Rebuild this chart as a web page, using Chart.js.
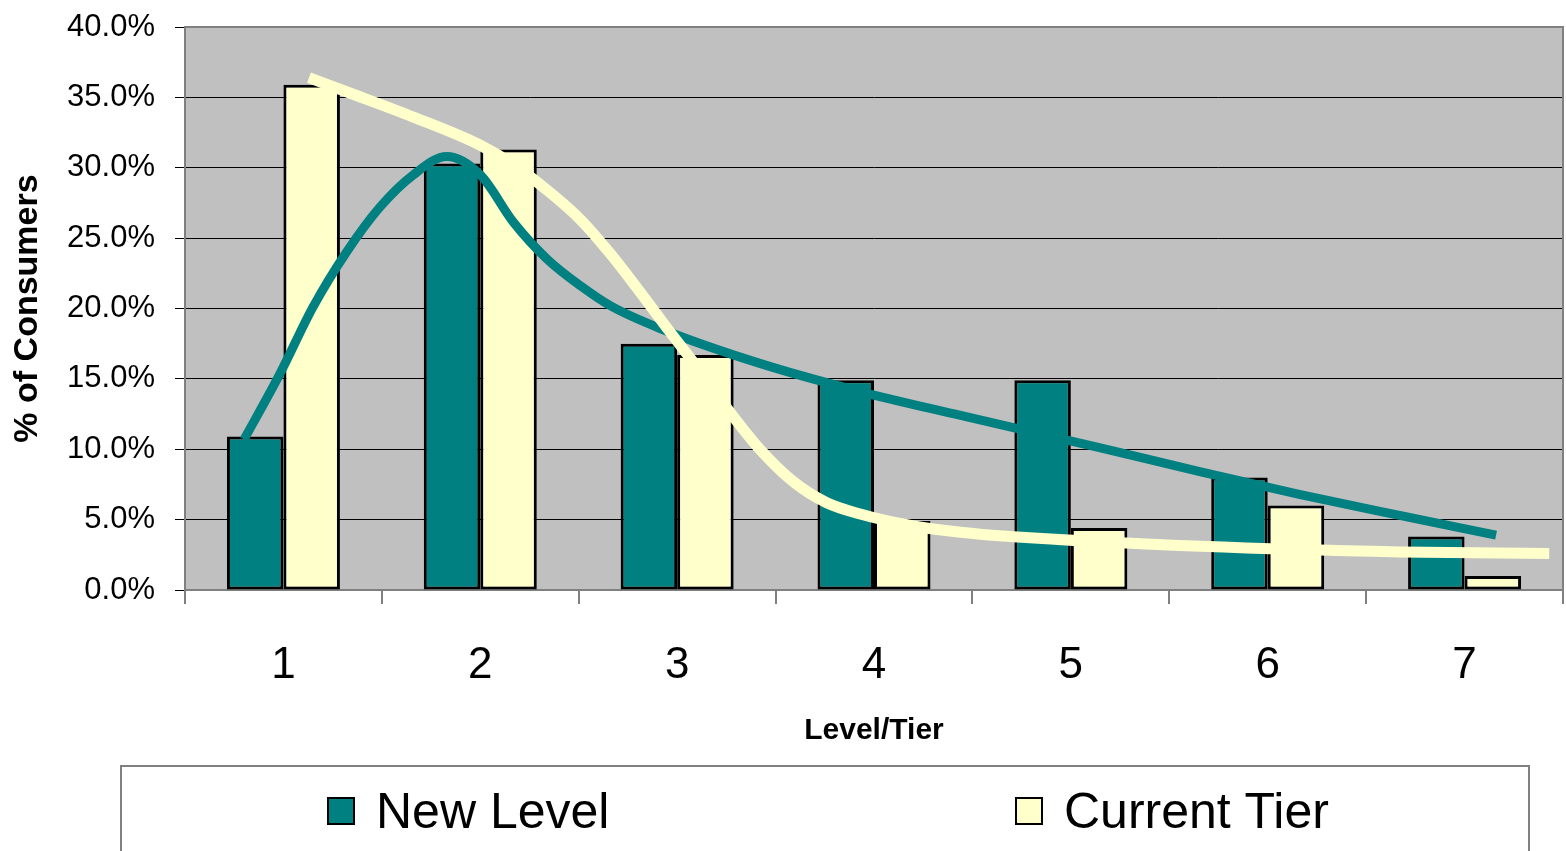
<!DOCTYPE html>
<html>
<head>
<meta charset="utf-8">
<script src="https://cdn.jsdelivr.net/npm/chart.js@4/dist/chart.umd.min.js"></script>
<style>
  html, body { margin: 0; padding: 0; background: #ffffff; overflow: hidden; }
  #wrap { width: 1566px; height: 851px; }
</style>
</head>
<body>
<div id="wrap"><canvas id="c" width="1566" height="851"></canvas></div>
<script>
// ---- data ----
const levels = ['1', '2', '3', '4', '5', '6', '7'];
const newLevel    = [10.9, 30.3, 17.5, 14.9, 14.9, 8.0, 3.8];
const currentTier = [35.9, 31.3, 16.7, 4.9, 4.4, 6.0, 1.0];

// smoothed curves (x in level units)
const newLevelCurveX = [0.80, 0.98, 1.15, 1.32, 1.49, 1.66, 1.83, 2.00, 2.17, 2.34, 2.51, 2.66, 2.91, 3.42, 3.93, 4.44, 5.15, 5.66, 6.16, 6.67, 7.16];
const newLevelCurveY = [10.7, 15.3, 20.1, 24.0, 27.2, 29.5, 30.8, 29.5, 26.1, 23.5, 21.6, 20.2, 18.6, 16.1, 14.1, 12.4, 10.1, 8.4, 6.8, 5.3, 3.9];
const currentTierCurveX = [1.13, 1.32, 1.66, 2.00, 2.17, 2.34, 2.51, 2.66, 2.81, 2.96, 3.12, 3.27, 3.42, 3.59, 3.76, 3.93, 4.18, 4.44, 4.69, 5.66, 6.67, 7.43];
const currentTierCurveY = [36.4, 35.4, 33.6, 31.6, 30.2, 28.4, 26.3, 23.9, 21.2, 18.4, 15.5, 12.6, 10.0, 7.7, 6.2, 5.4, 4.6, 4.1, 3.8, 3.1, 2.7, 2.6];

const yMin = 0, yMax = 40, yStep = 5;
const xTitle = 'Level/Tier';
const yTitle = '% of Consumers';

const TEAL = '#008080';
const CREAM = '#FFFFCC';
const FONT = "'Liberation Sans', Arial, sans-serif";

function toPoints(xs, ys) { return xs.map((x, i) => ({ x: x, y: ys[i] })); }
// category boundaries (tick marks sit between levels)
const bounds = levels.map((_, i) => i + 0.5).concat([levels.length + 0.5]);

const plotBg = {
  id: 'plotBg',
  beforeDraw(chart) {
    const a = chart.chartArea, ctx = chart.ctx;
    ctx.save();
    ctx.fillStyle = '#C0C0C0';
    ctx.fillRect(a.left, a.top, a.right - a.left, a.bottom - a.top);
    ctx.restore();
  },
  afterDatasetsDraw(chart) {
    const a = chart.chartArea, ctx = chart.ctx;
    ctx.save();
    ctx.strokeStyle = '#808080';
    ctx.lineWidth = 2;
    ctx.beginPath();
    ctx.moveTo(a.left, a.top); ctx.lineTo(a.right, a.top); ctx.lineTo(a.right, a.bottom);
    ctx.stroke();
    ctx.restore();
  }
};

const boxLegend = {
  id: 'boxLegend',
  afterDraw(chart) {
    const ctx = chart.ctx;
    const boxL = 121, boxR = 1529, boxT = 766;
    ctx.save();
    ctx.strokeStyle = '#808080';
    ctx.lineWidth = 2;
    ctx.strokeRect(boxL, boxT, boxR - boxL, 200);
    const items = chart.data.datasets.filter(d => d.type === 'bar');
    const colW = (boxR - boxL) / items.length;
    ctx.font = '50px ' + FONT;
    ctx.textBaseline = 'alphabetic';
    items.forEach((d, i) => {
      const tw = ctx.measureText(d.label).width;
      const mk = 28, gap = 21;
      const w = mk + gap + tw;
      const cx = boxL + colW * (i + 0.5);
      const x0 = Math.round(cx - w / 2) - 5;
      ctx.fillStyle = d.backgroundColor;
      ctx.fillRect(x0, 797, mk, mk);
      ctx.strokeStyle = '#000000';
      ctx.lineWidth = 2;
      ctx.strokeRect(x0 + 1, 798, mk - 2, mk - 2);
      ctx.fillStyle = '#000000';
      ctx.fillText(d.label, x0 + mk + gap, 828);
    });
    ctx.restore();
  }
};

new Chart(document.getElementById('c'), {
  type: 'bar',
  data: {
    labels: levels,
    datasets: [
      {
        type: 'bar', label: 'New Level', data: newLevel,
        backgroundColor: TEAL, borderColor: '#000000', borderWidth: 3, borderSkipped: false,
        categoryPercentage: 0.574, barPercentage: 1.0, order: 2
      },
      {
        type: 'bar', label: 'Current Tier', data: currentTier,
        backgroundColor: CREAM, borderColor: '#000000', borderWidth: 3, borderSkipped: false,
        categoryPercentage: 0.574, barPercentage: 1.0, order: 3
      },
      {
        type: 'line', label: 'New Level curve',
        data: toPoints(newLevelCurveX, newLevelCurveY),
        borderColor: TEAL, borderWidth: 9, borderCapStyle: 'butt', borderJoinStyle: 'round',
        pointRadius: 0, fill: false, cubicInterpolationMode: 'monotone', order: 1
      },
      {
        type: 'line', label: 'Current Tier curve',
        data: toPoints(currentTierCurveX, currentTierCurveY),
        borderColor: CREAM, borderWidth: 11, borderCapStyle: 'butt', borderJoinStyle: 'round',
        pointRadius: 0, fill: false, cubicInterpolationMode: 'monotone', order: 0
      }
    ]
  },
  options: {
    responsive: false,
    animation: false,
    devicePixelRatio: 1,
    layout: { padding: { top: 27, right: 3, bottom: 91, left: 0 } },
    plugins: { legend: { display: false }, tooltip: { enabled: false }, title: { display: false } },
    scales: {
      x: {
        type: 'linear', min: 0.5, max: levels.length + 0.5, offset: false,
        afterBuildTicks(s) { s.ticks = bounds.map(v => ({ value: v })); },
        grid: { display: true, drawOnChartArea: false, offset: false, color: '#808080', tickLength: 14, lineWidth: 2 },
        border: { display: true, color: '#808080', width: 2 },
        ticks: {
          color: '#000000', font: { family: FONT, size: 44 }, padding: 35, maxRotation: 0, autoSkip: false,
          labelOffset: 98.43,
          callback: (v, i) => (i < levels.length ? levels[i] : '')
        },
        title: { display: true, text: xTitle, color: '#000000', font: { family: FONT, size: 30, weight: 'bold' }, padding: { top: 0, bottom: 11 } },
        afterFit(s) { s.height = 170; s.paddingLeft = 0; s.paddingRight = 0; }
      },
      y: {
        type: 'linear', min: yMin, max: yMax, stacked: false,
        ticks: { stepSize: yStep, color: '#000000', font: { family: FONT, size: 31 }, padding: 20,
                 callback: v => v.toFixed(1) + '%' },
        grid: { color: '#000000', lineWidth: 1, tickLength: 10 },
        border: { display: true, color: '#808080', width: 2 },
        title: { display: true, text: yTitle, color: '#000000', font: { family: FONT, size: 34, weight: 'bold' }, padding: { top: 7, bottom: 0 } },
        afterFit(s) { s.width = 185; s.paddingTop = 0; s.paddingBottom = 0; }
      }
    }
  },
  plugins: [plotBg, boxLegend]
});
</script>
</body>
</html>
